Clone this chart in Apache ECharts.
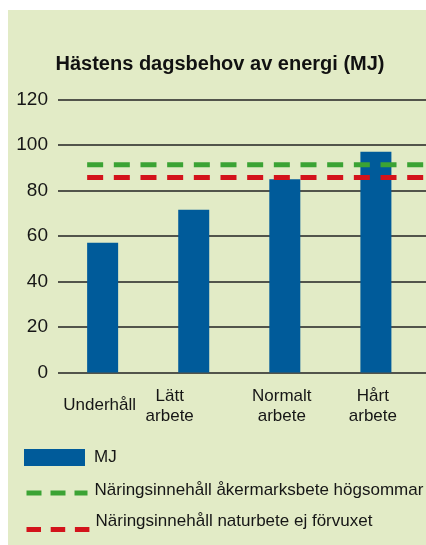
<!DOCTYPE html>
<html><head><meta charset="utf-8">
<script src="https://cdn.jsdelivr.net/npm/echarts@6/dist/echarts.min.js"></script>
<style>html,body{margin:0;padding:0;background:#fff}#c{width:426px;height:545px}</style>
</head><body><div id="c"></div>
<script>
// ---- data ----
const categories = ['Underhåll', 'Lätt\narbete', 'Normalt\narbete', 'Hårt\narbete'];
const mjValues = [57, 71.5, 85, 97];
const greenLevel = 91.3;   // Näringsinnehåll åkermarksbete högsommar
const redLevel = 85.7;     // Näringsinnehåll naturbete ej förvuxet
const refSpan = [-0.17, 3.55]; // extent of reference lines in category units
const yTickLabels = ['0', '20', '40', '60', '80', '100', '120'];
const seriesNames = ['MJ', 'Näringsinnehåll åkermarksbete högsommar', 'Näringsinnehåll naturbete ej förvuxet'];
const titleText = 'Hästens dagsbehov av energi (MJ)';

const FONT = '"Liberation Sans", Arial, sans-serif';
const TXT = '#161616';
const BLUE = '#005b9a', GREEN = '#3ba334', RED = '#d3131b';

const chart = echarts.init(document.getElementById('c'));
const labelStyle = {fontSize: 17, fontFamily: FONT, color: TXT};
const legText = (shiftUp, padLeft) => ({
  fontSize: 17, fontFamily: FONT, color: TXT,
  rich: {t: {fontSize: 17, fontFamily: FONT, color: TXT, padding: [0, 0, shiftUp * 2, padLeft]}}
});
chart.setOption({
  animation: false,
  backgroundColor: '#ffffff',
  graphic: [{type: 'rect', z: -10, shape: {x: 8, y: 10, width: 418, height: 535}, style: {fill: '#e2ebc6'}}],
  title: {text: titleText, left: 220, textAlign: 'center', top: 54, padding: 0,
    textStyle: {fontSize: 20, fontWeight: 'bold', fontFamily: FONT, color: '#111'}},
  grid: {left: 58, right: 0, top: 99.5, bottom: 172.5},
  xAxis: {
    type: 'value', min: -0.49, max: 3.55,
    axisLine: {show: false}, axisTick: {show: false}, splitLine: {show: false},
    axisLabel: {
      customValues: categories.map((c, i) => i),
      margin: 13.5,
      formatter: v => {
        const i = Math.round(v);
        const st = i === 0 ? 'u' : (i === 1 ? 'w' : 'a');
        return categories[i].split('\n').map(l => '{' + st + '|' + l + '}').join('\n');
      },
      rich: {
        u: Object.assign({padding: [0, 6, 0, 0], lineHeight: 38}, labelStyle),
        a: Object.assign({padding: [0, 6, 0, 0], lineHeight: 20}, labelStyle),
        w: Object.assign({padding: [0, 48, 0, 0], lineHeight: 20}, labelStyle)
      }
    }
  },
  yAxis: {
    type: 'value', min: 0, max: 120, interval: 20,
    axisLine: {show: false}, axisTick: {show: false},
    splitLine: {lineStyle: {color: '#222', width: 1.5}},
    axisLabel: {margin: 10, fontSize: 19, fontFamily: FONT, color: TXT,
      formatter: (v) => yTickLabels[Math.round(v / 20)]}
  },
  legend: [
    {data: [{name: seriesNames[0], icon: 'rect'}], left: 24, top: 449, itemWidth: 61, itemHeight: 17,
      padding: 0, selectedMode: false, formatter: n => '{t|' + n + '}', textStyle: legText(0, 4)},
    {data: [{name: seriesNames[1], itemStyle: {color: 'transparent', borderWidth: 0},
        lineStyle: {type: [15, 9], width: 5, color: GREEN}}],
      left: 24, top: 481.5, itemWidth: 61, itemHeight: 17, padding: 0, selectedMode: false,
      formatter: n => '{t|' + n + '}', textStyle: legText(3, 2)},
    {data: [{name: seriesNames[2], itemStyle: {color: 'transparent', borderWidth: 0},
        lineStyle: {type: [14.5, 9.7], width: 5, color: RED}}],
      left: 24, top: 513, itemWidth: 64, itemHeight: 17, padding: 0, selectedMode: false,
      formatter: n => '{t|' + n + '}', textStyle: legText(8, 0)}
  ],
  series: [
    {name: seriesNames[0], type: 'bar', barWidth: 31, data: mjValues.map((v, i) => [i, v]),
      itemStyle: {color: BLUE}, silent: true},
    {name: seriesNames[1], type: 'line', symbol: 'none', silent: true, z: 3,
      data: refSpan.map(x => [x, greenLevel]),
      lineStyle: {color: GREEN, width: 5, type: [16, 10.67]}, itemStyle: {color: GREEN}},
    {name: seriesNames[2], type: 'line', symbol: 'none', silent: true, z: 3,
      data: refSpan.map(x => [x, redLevel]),
      lineStyle: {color: RED, width: 5, type: [16, 10.67]}, itemStyle: {color: RED}}
  ]
});
</script></body></html>
